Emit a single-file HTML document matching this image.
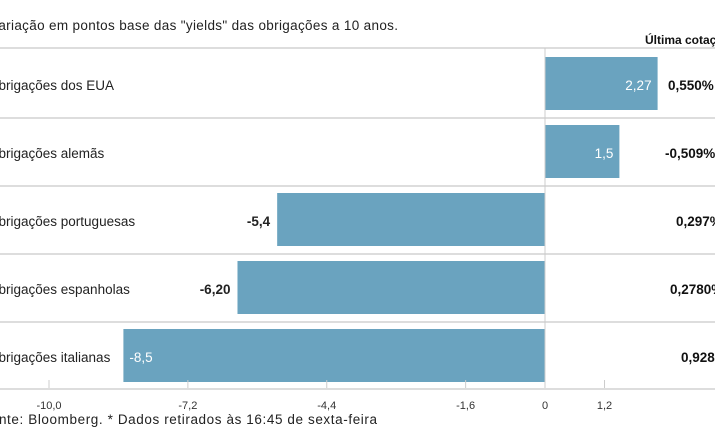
<!DOCTYPE html>
<html><head><meta charset="utf-8">
<style>
html,body{margin:0;padding:0;background:#fff;}
svg{display:block;font-family:"Liberation Sans",sans-serif;}
</style></head>
<body>
<svg id="chart" width="715" height="445" viewBox="0 0 715 445">
  <text x="-10" y="30" font-size="13.5" fill="#222" textLength="408">Variação em pontos base das "yields" das obrigações a 10 anos.</text>
  <text x="645" y="44" font-size="12" font-weight="bold" fill="#111">Última cotação</text>
  <g id="rows"></g>
  <g id="axis"></g>
  <text x="-18" y="424" font-size="13.5" fill="#222" textLength="395">Fonte: Bloomberg.  * Dados retirados às 16:45 de sexta-feira</text>
</svg>
<script>
const categories = ["Obrigações dos EUA","Obrigações alemãs","Obrigações portuguesas","Obrigações espanholas","Obrigações italianas"];
const changes = [2.27, 1.5, -5.4, -6.2, -8.5];
const changeLabels = ["2,27","1,5","-5,4","-6,20","-8,5"];
const lastQuotes = ["0,550%","-0,509%","0,297%","0,2780%","0,928%"];
const ticks = [-10, -7.2, -4.4, -1.6, 0, 1.2];
const tickLabels = ["-10,0","-7,2","-4,4","-1,6","0","1,2"];

const NS = "http://www.w3.org/2000/svg";
const x = v => 545 + v * 49.6;
const rowTop = i => 50 + i * 68;
function mk(tag, attrs, parent){const e=document.createElementNS(NS,tag);for(const k in attrs)e.setAttribute(k,attrs[k]);parent.appendChild(e);return e;}
const rows = document.getElementById('rows');
const axis = document.getElementById('axis');

// top line
let tl = mk('rect',{x:0,y:47,width:715,height:2,fill:'#ddd'},rows);



categories.forEach((c,i)=>{
  const top = rowTop(i);
  const g = mk('g',{},rows);
  
  
  const v = changes[i];
  const x0 = Math.min(x(0), x(v)), w = Math.abs(x(v)-x(0));
  const bar = mk('rect',{x:x0,y:top+7,width:w,height:53,fill:'#6aa3bf'},g);
  
  
  const lab = mk('text',{x:-12,y:top+40,'font-size':'13.5',fill:'#222'},g);
  lab.textContent = c;
  
  
  let vl;
  if (v > 0) vl = mk('text',{x:x(v)-6,y:top+40,'font-size':'13.5',fill:'#fff','text-anchor':'end'},g);
  else if (v < -7) vl = mk('text',{x:x(v)+6,y:top+40,'font-size':'13.5',fill:'#fff'},g);
  else vl = mk('text',{x:x(v)-7,y:top+40,'font-size':'13.5','font-weight':'bold',fill:'#222','text-anchor':'end'},g);
  vl.textContent = changeLabels[i];
  
  
  const q = mk('text',{x:713,y:top+40,'font-size':'13.5','font-weight':'bold',fill:'#111','text-anchor':'start'},g);
  q.textContent = lastQuotes[i];
  
  
  const qw = q.getComputedTextLength ? q.getComputedTextLength() : 45;
  const starts=[668,665,676,670,681];
  q.setAttribute('x', starts[i]);
  if (i < categories.length-1){
    const s = mk('rect',{x:0,y:top+67,width:715,height:2,fill:'#ddd'},g);
    
    
  }
});
// zero line
const zl = mk('rect',{x:x(0)-0.5,y:48,width:1,height:342,fill:'#ccc'},axis);


const bl = mk('rect',{x:0,y:388,width:715,height:2,fill:'#ddd'},axis);


ticks.forEach((t,i)=>{
  const tk = mk('rect',{x:x(t)-0.5,y:380,width:1,height:8,fill:'#ccc'},axis);
  
  
  const tt = mk('text',{x:x(t),y:409,'font-size':'11',fill:'#333','text-anchor':'middle'},axis);
  tt.textContent = tickLabels[i];
  
  
});
</script>
</body></html>
